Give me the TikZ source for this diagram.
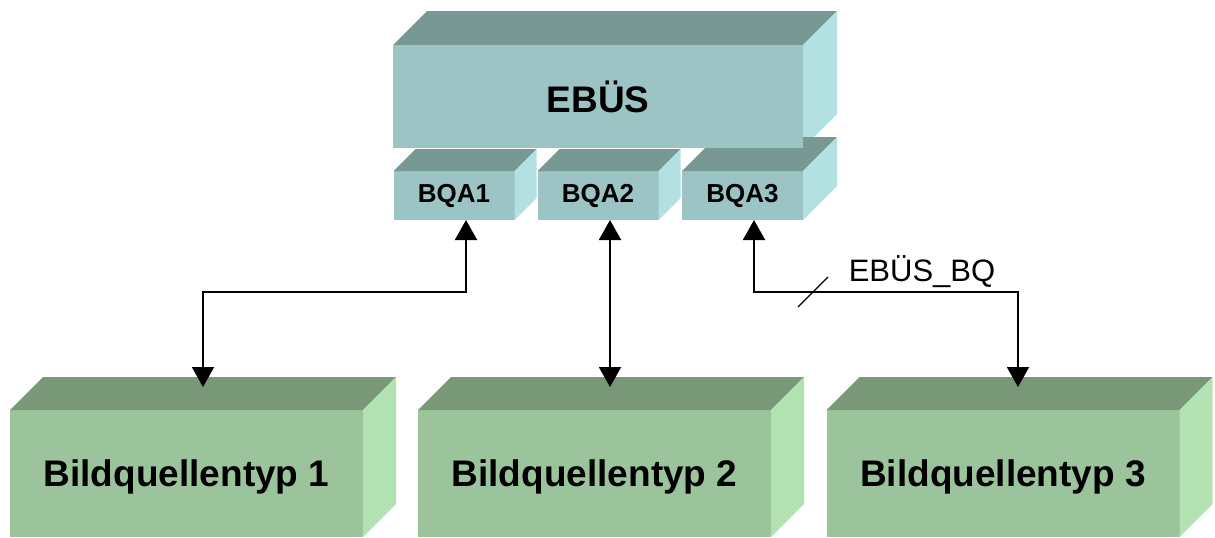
\documentclass[tikz,border=0pt]{standalone}
\usepackage{fontspec}
\setmainfont{Liberation Sans}
\usepackage{tikz}
\usetikzlibrary{arrows.meta,calc,positioning,backgrounds}
\definecolor{ebusfront}{HTML}{9CC4C4}
\definecolor{ebustop}{HTML}{789896}
\definecolor{ebusside}{HTML}{B3E1E1}
\definecolor{typfront}{HTML}{9CC49C}
\definecolor{typtop}{HTML}{789878}
\definecolor{typside}{HTML}{B2E2B2}
\tikzset{
  frontface/.style={
    inner sep=0pt,
    outer sep=0pt,
    align=center,
    text=black
  },
  ebusbox/.style={
    frontface,
    fill=ebusfront,
    font=\fontsize{18.5}{22}\selectfont\bfseries,
    minimum width=205pt,
    minimum height=51.5pt
  },
  bqabox/.style={
    frontface,
    fill=ebusfront,
    font=\fontsize{13}{15}\selectfont\bfseries,
    minimum width=60.5pt,
    minimum height=24.5pt
  },
  typbox/.style={
    frontface,
    fill=typfront,
    font=\fontsize{18.5}{22}\selectfont\bfseries,
    text depth=0pt,
    minimum width=176.5pt,
    minimum height=63.5pt
  },
  verbindung/.style={line width=1pt, draw=black,
    {Triangle[length=10pt,width=11pt]}-{Triangle[length=10pt,width=11pt]}},
  strich/.style={line width=0.6pt, draw=black},
  buslabel/.style={font=\fontsize{15.5}{18}\selectfont, text=black, inner sep=0pt}
}
% top and right faces of a box, behind its front node
\newcommand{\quader}[3]{%
  \fill[#3top] (#1.north west) -- ++(#2,-#2) -- ($(#1.north east)+(#2,-#2)$) -- (#1.north east) -- cycle;
  \fill[#3side] (#1.north east) -- ++(#2,-#2) -- ($(#1.south east)+(#2,-#2)$) -- (#1.south east) -- cycle;
}

\begin{document}
\begin{tikzpicture}[x=0.5pt,y=-0.5pt]
\useasboundingbox (0,0) rectangle (1215,537);

% Bildquellen
\node[typbox] (typ1) at (186.5,473.5) {Bildquellentyp 1};
\quader{typ1}{33}{typ}
\node[typbox] (typ2) at (594.5,473.5) {Bildquellentyp 2};
\quader{typ2}{33}{typ}
\node[typbox] (typ3) at (1003,473.5) {Bildquellentyp 3};
\quader{typ3}{33}{typ}

% Anschluesse
\node[bqabox] (bqa1) at (454,195.5) {BQA1};
\quader{bqa1}{22}{ebus}
\node[bqabox] (bqa2) at (598,195.5) {BQA2};
\quader{bqa2}{22}{ebus}
\node[bqabox] (bqa3) at (742.5,195.5) {BQA3};
\quader{bqa3}{34}{ebus}

\node[ebusbox] (ebus) at (598,96.5) {EBÜS};
\begin{scope}[on background layer]
  \quader{ebus}{34}{ebus}
\end{scope}

\draw[verbindung] ([xshift=6pt]bqa1.south) -- ++(0,72) -| ([xshift=8.25pt,yshift=11.5pt]typ1.north);
\draw[verbindung] ([xshift=6pt]bqa2.south) -- ([xshift=7.75pt,yshift=11.5pt]typ2.north);
\draw[verbindung] ([xshift=5.75pt]bqa3.south) -- ++(0,72) -| ([xshift=7.5pt,yshift=11.5pt]typ3.north);

\coordinate (busstrich) at (813,292);
\draw[strich] ($(busstrich)+(-15,15)$) -- ($(busstrich)+(15,-15)$);
\node[buslabel] (bus) at (922,272) {EBÜS\_BQ};

\end{tikzpicture}
\end{document}
